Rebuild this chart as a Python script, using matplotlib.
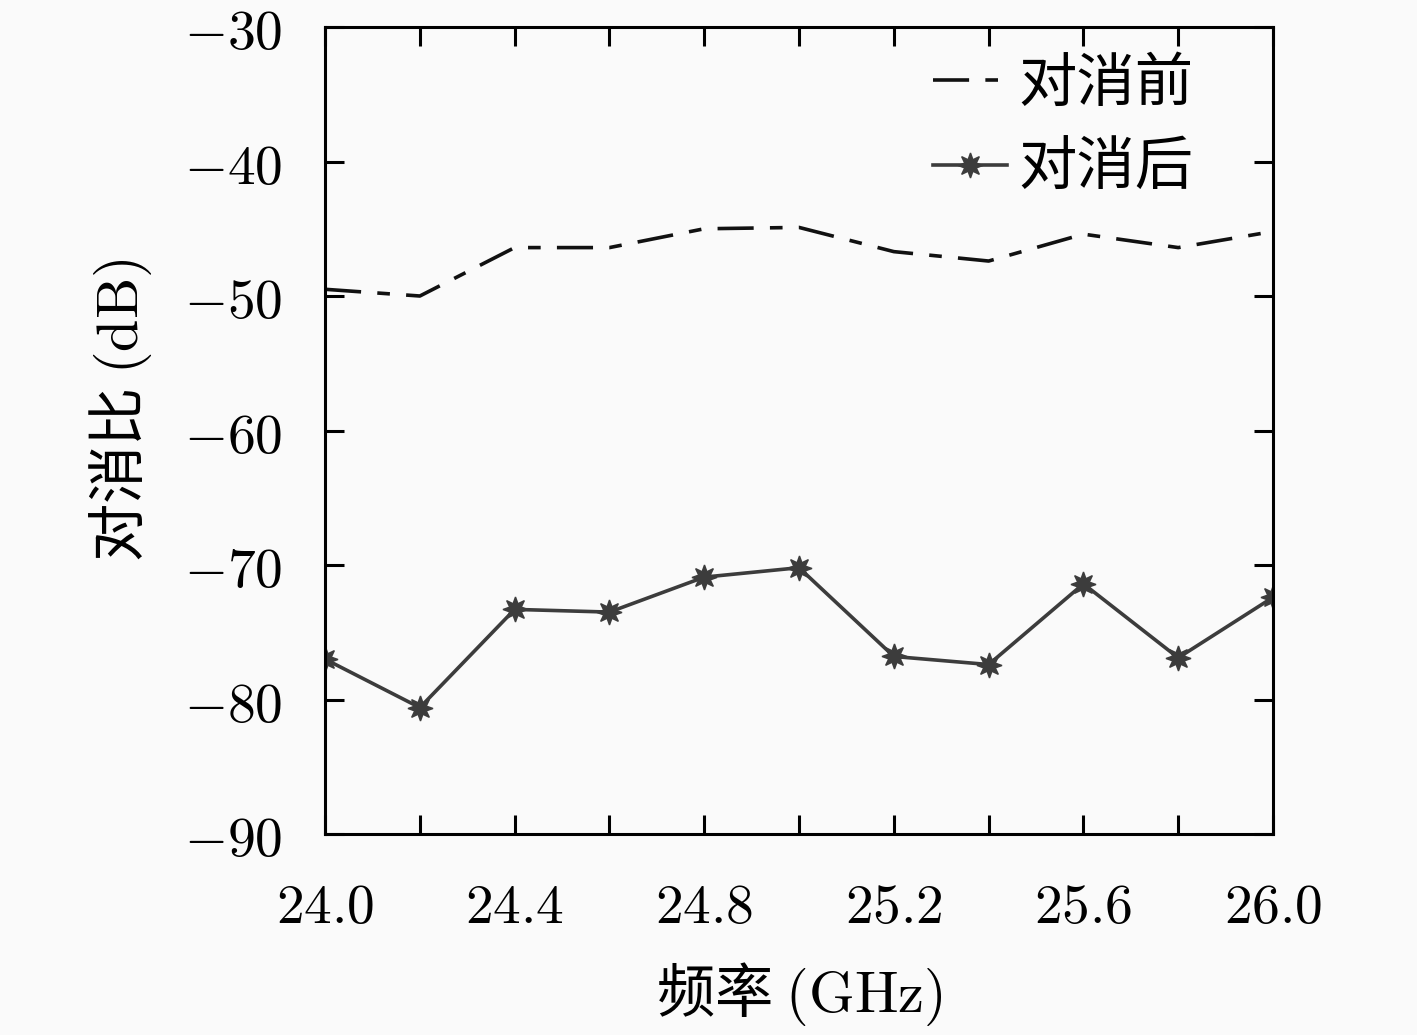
import numpy as np
import matplotlib
matplotlib.use("Agg")
from matplotlib import pyplot as plt
from matplotlib.ticker import MultipleLocator, FuncFormatter

# dati
freq = [24.0, 24.2, 24.4, 24.6, 24.8, 25.0, 25.2, 25.4, 25.6, 25.8, 26.0]
before = [-49.5, -50.0, -46.4, -46.4, -45.0, -44.9, -46.7, -47.4, -45.4, -46.4, -45.2]
after = [-77.0, -80.6, -73.3, -73.5, -70.9, -70.2, -76.8, -77.4, -71.4, -76.9, -72.4]
label_before = "对消前"
label_after = "对消后"
xlabel = "频率 $\\mathrm{(GHz)}$"
ylabel = "对消比 $\\mathrm{(dB)}$"

plt.rcParams['font.family'] = ['Noto Sans CJK SC', 'DejaVu Sans']
plt.rcParams['mathtext.fontset'] = 'cm'
plt.rcParams['axes.unicode_minus'] = True

fig = plt.figure(figsize=(14.17, 10.35), dpi=100, facecolor='#fafafa')
ax = fig.add_axes([0.2294, 0.1942, 0.669, 0.7797])
ax.set_facecolor('#fafafa')

c = '#3c3c3c'
ax.plot(freq, before, color='#111111', lw=2.6, dashes=(10, 4.5, 3.5, 4.5), label=label_before)
ax.plot(freq, after, color=c, lw=2.6, marker=(8, 1, 0), markersize=18,
        label=label_after)

ax.set_xlim(24.0, 26.0)
ax.set_ylim(-90, -30)
ax.xaxis.set_major_locator(MultipleLocator(0.4))
ax.xaxis.set_minor_locator(MultipleLocator(0.2))
ax.yaxis.set_major_locator(MultipleLocator(10))
ax.xaxis.set_major_formatter(FuncFormatter(lambda v, p: "$%.1f$" % v))
ax.yaxis.set_major_formatter(FuncFormatter(lambda v, p: "$%d$" % round(v)))

for s in ax.spines.values():
    s.set_linewidth(2.2)
ax.tick_params(which='both', direction='in', top=True, right=True,
               width=2.2, labelsize=40)
ax.tick_params(which='major', length=14)
ax.tick_params(which='minor', length=14)
ax.tick_params(axis='x', which='both', pad=32)
ax.tick_params(axis='y', which='both', pad=31)

ax.set_xlabel(xlabel, fontsize=42, labelpad=18)
ax.set_ylabel(ylabel, fontsize=42)
ax.yaxis.set_label_coords(-0.18, 0.525)

leg = ax.legend(loc='upper right', bbox_to_anchor=(0.947, 1.003), frameon=False,
                fontsize=42, borderpad=0, handlelength=1.27, handletextpad=0.2,
                labelspacing=0.4)

fig.savefig("out.png", dpi=100, facecolor=fig.get_facecolor())
